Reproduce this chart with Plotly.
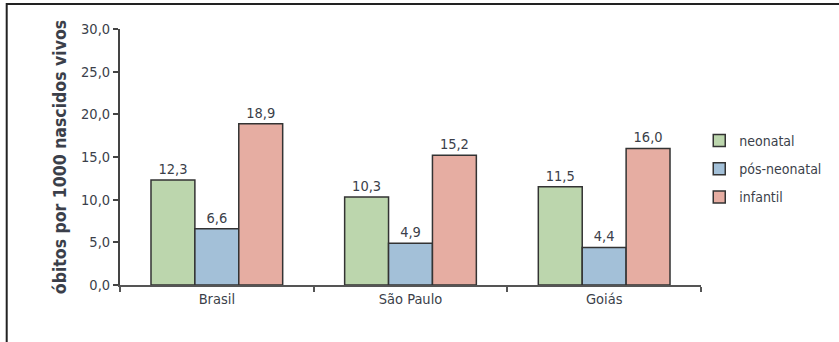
import plotly.graph_objects as go

categories = ["Brasil", "São Paulo", "Goiás"]
neonatal = [12.3, 10.3, 11.5]
pos_neonatal = [6.6, 4.9, 4.4]
infantil = [18.9, 15.2, 16.0]
series_names = ["neonatal", "pós-neonatal", "infantil"]
y_ticks = [0, 5, 10, 15, 20, 25, 30]

colors = ["#bcd6ad", "#a3c0d8", "#e6ada2"]
FONT = "DejaVu Sans Condensed, Liberation Sans Narrow, Arial Narrow, sans-serif"
TXT = "#3b3f4a"

fig = go.Figure()
for i, (name, vals) in enumerate(zip(series_names, [neonatal, pos_neonatal, infantil])):
    fig.add_trace(go.Bar(
        x=categories, y=vals, name=name,
        marker=dict(color=colors[i], line=dict(color="#333333", width=1.5)),
        texttemplate="%{y:.1f}", textposition="outside",
        textfont=dict(size=14.5, color=TXT, family=FONT),
        cliponaxis=False, legendgroup=name,
    ))

fig.update_layout(
    width=839, height=342,
    margin=dict(l=120, r=135, t=29, b=57),
    paper_bgcolor="white", plot_bgcolor="white",
    separators=",.",
    barmode="group", bargap=0.32, bargroupgap=0,
    font=dict(family=FONT, color=TXT, size=14.5),
    showlegend=True,
    legend=dict(x=0.997, y=0.625, xanchor="left", yanchor="top",
                font=dict(size=14, color=TXT, family=FONT),
                tracegroupgap=7, bgcolor="rgba(0,0,0,0)", borderwidth=0),
    xaxis=dict(showline=True, linecolor="#555555", linewidth=2,
               ticks="outside", ticklen=5, tickcolor="#555555", tickwidth=2,
               tickson="boundaries", showgrid=False,
               tickfont=dict(size=14.5, color=TXT, family=FONT)),
    yaxis=dict(range=[0, 30], tickvals=y_ticks, tickformat=".1f",
               showline=True, linecolor="#444444", linewidth=2,
               ticks="outside", ticklen=5, tickcolor="#444444", tickwidth=2,
               showgrid=False, zeroline=False,
               tickfont=dict(size=14.5, color=TXT, family=FONT),
               title=dict(text="<b>óbitos por 1000 nascidos vivos</b>",
                          font=dict(size=17.5, color=TXT, family=FONT), standoff=10)),
    shapes=[dict(type="rect", xref="paper", yref="paper",
                 x0=-0.195, x1=1.26, y0=-0.3, y1=1.0977,
                 line=dict(color="#222222", width=2), fillcolor="rgba(0,0,0,0)",
                 layer="below")],
)

fig.write_html("out.html")
